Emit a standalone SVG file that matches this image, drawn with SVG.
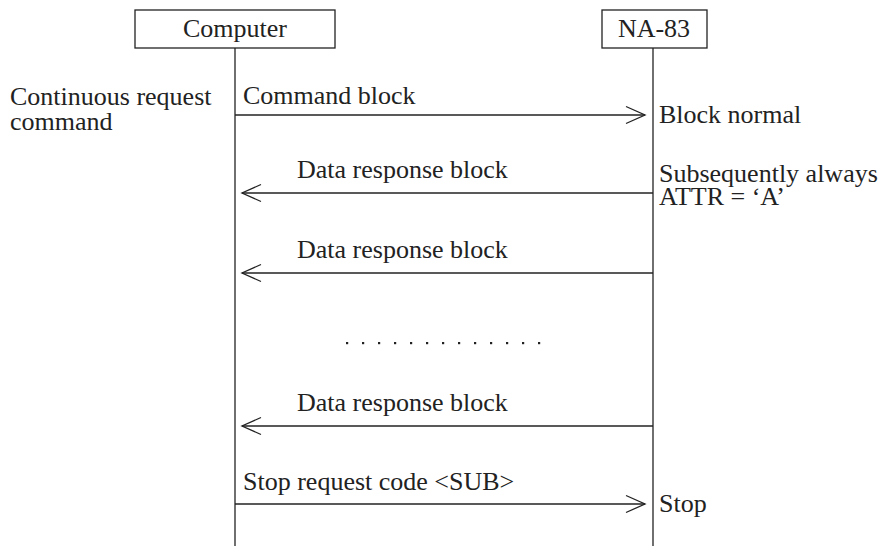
<svg xmlns="http://www.w3.org/2000/svg" width="890" height="546" viewBox="0 0 890 546">
<style>
text{font-family:"Liberation Serif","Times New Roman",serif;font-size:26px;fill:#222}
.box{fill:#fff;stroke:#222;stroke-width:1.3}
.life{stroke:#222;stroke-width:1.3;fill:none}
.msg{stroke:#222;stroke-width:1.3;fill:none}
.c{text-anchor:middle}
</style>
<defs>
<marker id="open" markerWidth="24" markerHeight="22" refX="20" refY="11" orient="auto" markerUnits="userSpaceOnUse">
<path d="M1,2.5 L20,11 L1,19.5" fill="none" stroke="#222" stroke-width="1.3"/>
</marker>
</defs>
<g id="computer">
<rect class="box" x="135" y="10" width="200" height="38"/>
<text class="c" x="235" y="37">Computer</text>
<line class="life" x1="235" y1="48" x2="235" y2="546"/>
</g>
<g id="na83">
<rect class="box" x="602" y="10" width="105" height="38"/>
<text class="c" x="654" y="37">NA-83</text>
<line class="life" x1="653" y1="48" x2="653" y2="546"/>
</g>
<g id="connectors">
<line class="msg" x1="235" y1="115" x2="645" y2="115" marker-end="url(#open)"/>
<line class="msg" x1="653" y1="193" x2="242" y2="193" marker-end="url(#open)"/>
<line class="msg" x1="653" y1="273" x2="242" y2="273" marker-end="url(#open)"/>
<line class="msg" x1="653" y1="426" x2="242" y2="426" marker-end="url(#open)"/>
<line class="msg" x1="235" y1="504" x2="645" y2="504" marker-end="url(#open)"/>
</g>
<g id="labels">
<text x="10" y="105">Continuous request</text>
<text x="10" y="130">command</text>
<text x="243" y="104">Command block</text>
<text x="659" y="123">Block normal</text>
<text x="297" y="178">Data response block</text>
<text x="659" y="182">Subsequently always</text>
<text x="659" y="205">ATTR = ‘A’</text>
<text x="297" y="258">Data response block</text>
<text x="297" y="411">Data response block</text>
<text x="243" y="490">Stop request code &lt;SUB&gt;</text>
<text x="659" y="512">Stop</text>
</g>
<g id="dots" fill="#222">
<rect x="346" y="342" width="2.2" height="2.2"/>
<rect x="362" y="342" width="2.2" height="2.2"/>
<rect x="378" y="342" width="2.2" height="2.2"/>
<rect x="394" y="342" width="2.2" height="2.2"/>
<rect x="410" y="342" width="2.2" height="2.2"/>
<rect x="426" y="342" width="2.2" height="2.2"/>
<rect x="442" y="342" width="2.2" height="2.2"/>
<rect x="458" y="342" width="2.2" height="2.2"/>
<rect x="474" y="342" width="2.2" height="2.2"/>
<rect x="490" y="342" width="2.2" height="2.2"/>
<rect x="506" y="342" width="2.2" height="2.2"/>
<rect x="522" y="342" width="2.2" height="2.2"/>
<rect x="538" y="342" width="2.2" height="2.2"/>
</g>
</svg>
